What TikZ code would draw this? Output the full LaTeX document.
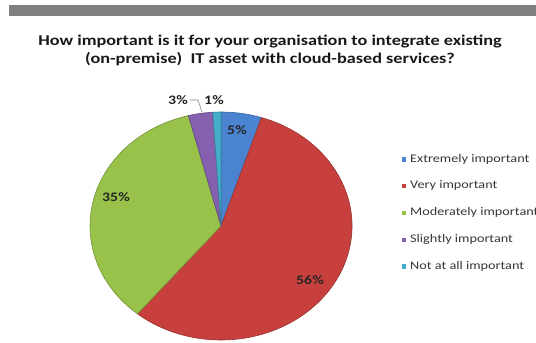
\documentclass[tikz,border=0pt]{standalone}
\usepackage{fontspec}
\setmainfont{Carlito}[FakeStretch=1.22]
\definecolor{cblue}{HTML}{4A84D0}
\definecolor{cred}{HTML}{C8403E}
\definecolor{cgreen}{HTML}{98C24A}
\definecolor{cpurple}{HTML}{8460AE}
\definecolor{ccyan}{HTML}{45AFCB}
\definecolor{bar}{HTML}{808080}
\tikzset{
  slice/.style={fill=#1, draw=#1!75!black, line width=0.6pt, line join=round},
  titletxt/.style={font=\fontsize{15}{18}\selectfont\bfseries, text=black!90, anchor=base, inner sep=0pt},
  pct/.style={font=\fontsize{13}{15}\selectfont\bfseries, text=black!85, inner sep=0pt},
  legsq/.style={minimum size=5.5bp, inner sep=0pt, draw=white, line width=0.3pt},
  legtxt/.style={font=\fontsize{11.7}{13}\selectfont, text=black!78, anchor=west, inner sep=0pt},
}
\begin{document}
\begin{tikzpicture}[x=1bp,y=1bp]
\useasboundingbox (0,0) rectangle (536,342);
\fill[white] (0,0) rectangle (536,342);
\fill[bar] (9,326) rectangle (536,337);
\node[titletxt] (title1) at (270,297) {How important is it for your organisation to integrate existing};
\node[titletxt] (title2) at (270,279) {(on-premise)\ \ IT asset with cloud-based services?};
\coordinate (c) at (221,116);
\def\rx{131}\def\ry{114}
\draw[slice=cblue] (c) -- ++(90:{\rx} and {\ry}) arc[start angle=90, end angle=72, x radius=\rx, y radius=\ry] -- cycle;
\draw[slice=cred] (c) -- ++(72:{\rx} and {\ry}) arc[start angle=72, end angle=-129.6, x radius=\rx, y radius=\ry] -- cycle;
\draw[slice=cgreen] (c) -- ++(-129.6:{\rx} and {\ry}) arc[start angle=-129.6, end angle=-255.6, x radius=\rx, y radius=\ry] -- cycle;
\draw[slice=cpurple] (c) -- ++(-255.6:{\rx} and {\ry}) arc[start angle=-255.6, end angle=-266.4, x radius=\rx, y radius=\ry] -- cycle;
\draw[slice=ccyan] (c) -- ++(-266.4:{\rx} and {\ry}) arc[start angle=-266.4, end angle=-270, x radius=\rx, y radius=\ry] -- cycle;
\node[pct] (p5) at (237,212) {5\%};
\node[pct] (p56) at (310,62) {56\%};
\node[pct] (p35) at (116,145) {35\%};
\node[pct] (p3) at (178,242) {3\%};
\node[pct] (p1) at (214,242) {1\%};
\coordinate (l1) at (198,242);
\coordinate (l2) at (202,230);
\draw[gray, line width=0.6pt] (p3.east) ++(2,0) -- (l1) -- (l2);
\foreach \i/\col/\txt [count=\k from 0] in {a/cblue/Extremely important, b/cred/Very important, c/cgreen/Moderately important, d/cpurple/Slightly important, e/ccyan/Not at all important}{
  \node[legsq, fill=\col] (sq\i) at (403.5,{183-26.8*\k}) {};
  \node[legtxt] (lt\i) at (410,{183-26.8*\k}) {\txt};
}
\end{tikzpicture}
\end{document}
